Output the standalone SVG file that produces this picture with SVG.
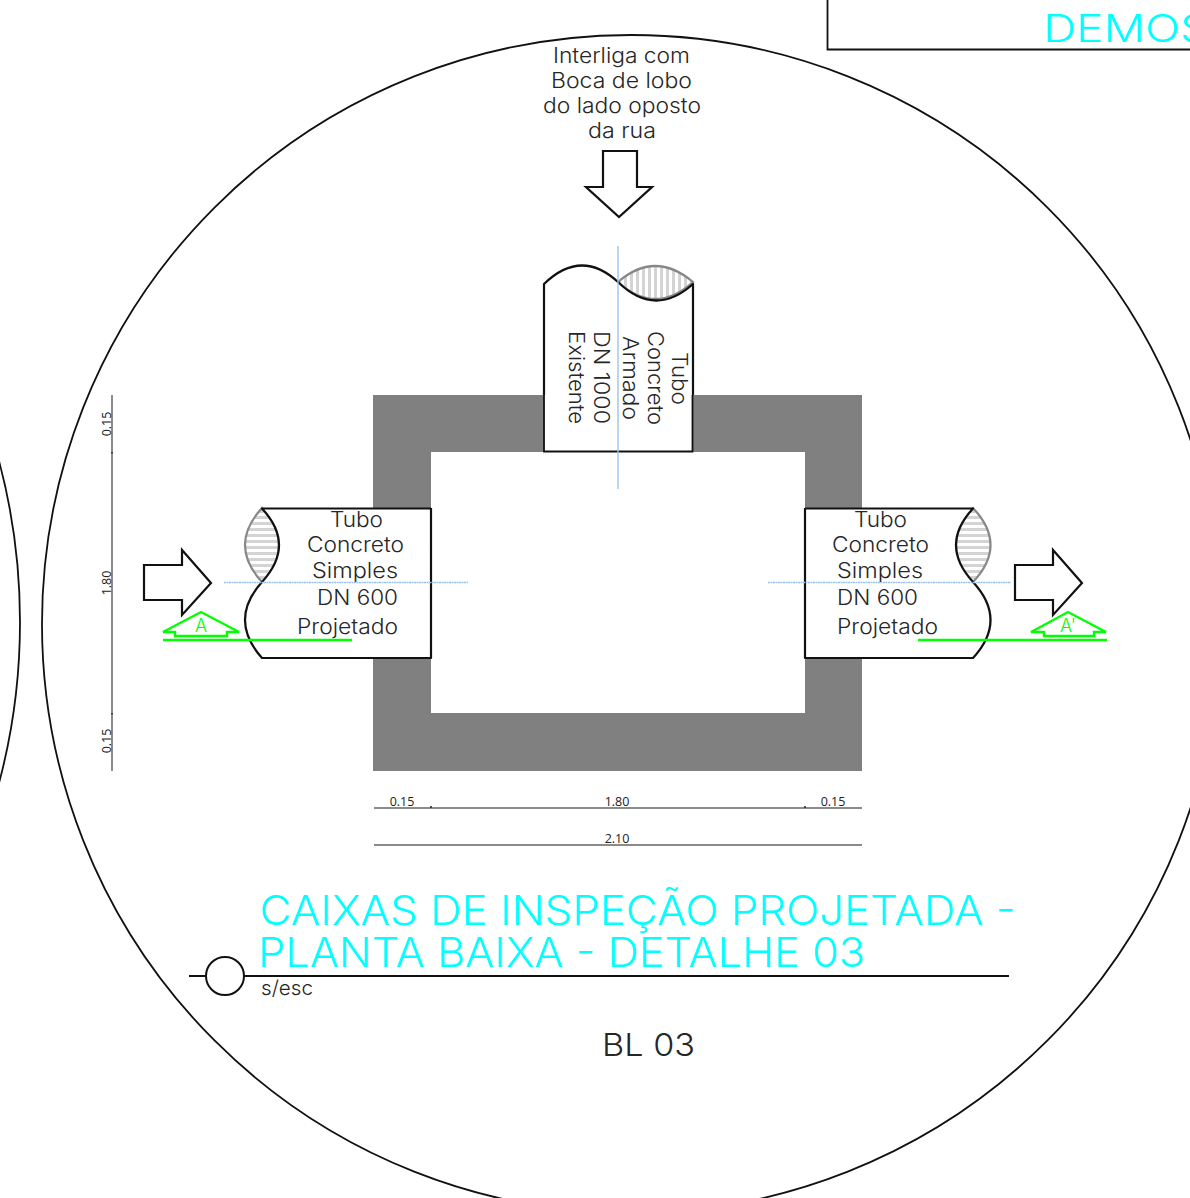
<svg xmlns="http://www.w3.org/2000/svg" width="1190" height="1198" viewBox="0 0 1190 1198">
<style>
text{font-family:Inter,"Liberation Sans",Arial,sans-serif;fill:#262626;font-weight:300}
.t{font-size:21px;text-anchor:middle}
.c{font-size:41px;fill:#00ffff}
.d{font-family:"Open Sans","Liberation Sans",sans-serif;font-size:12.5px;text-anchor:middle;fill:#222;font-weight:400}
.o{fill:none;stroke:#111;stroke-width:1.8}
.p{fill:none;stroke:#111;stroke-width:2.2;stroke-linejoin:round}
.a{fill:#fff;stroke:#111;stroke-width:2.2;stroke-linejoin:miter}
.g{fill:none;stroke:#00ff00;stroke-width:2.4}
.b{fill:none;stroke:#9cc3e8;stroke-width:1.4}
.l{fill:url(#hh);stroke:#888;stroke-width:2.2}
.v{fill:url(#hv);stroke:#888;stroke-width:2.2}
.m{stroke:#666;stroke-width:1.5;fill:none}
.s{font-size:18px;text-anchor:middle;fill:#00ff00}
</style>
<defs>
<pattern id="hh" width="8" height="6" patternUnits="userSpaceOnUse"><rect width="8" height="6" fill="#fff"/><rect width="8" height="3" fill="#d4d4d4"/></pattern>
<pattern id="hv" width="6" height="8" patternUnits="userSpaceOnUse"><rect width="6" height="8" fill="#fff"/><rect width="3" height="8" fill="#d4d4d4"/></pattern>
</defs>
<g id="circles">
<circle class="o" cx="631" cy="624" r="589"/>
<circle class="o" cx="-606" cy="622" r="626"/>
</g>
<g id="title-block">
<path class="o" d="M827.500 0V49.500H1190"/>
<text class="c" x="1043" y="42" style="font-size:38.500px" textLength="166" lengthAdjust="spacingAndGlyphs">DEMOS</text>
</g>
<g id="interliga-label">
<text class="t" x="621.500" y="63" textLength="137" lengthAdjust="spacingAndGlyphs">Interliga com</text>
<text class="t" x="621.500" y="88" textLength="141" lengthAdjust="spacingAndGlyphs">Boca de lobo</text>
<text class="t" x="622" y="113" textLength="158" lengthAdjust="spacingAndGlyphs">do lado oposto</text>
<text class="t" x="622" y="138" textLength="68" lengthAdjust="spacingAndGlyphs">da rua</text>
</g>
<g id="box">
<path fill="#808080" fill-rule="evenodd" d="M373 395H862V771H373ZM431 452V713H805V452Z"/>
</g>
<g id="pipe-top">
<path class="v" d="M618 282Q655 250 693 282Q655 316 618 282Z"/>
<path fill="#fff" stroke="none" d="M544 284Q581 250 618 282Q655 318 693 284V452H544Z"/>
<path class="p" d="M544 395V284Q581 248 618 282Q655 318 693 284V395"/>
<path class="o" d="M544 395V451.500H692.500V395"/>
<text class="t" transform="translate(672,378.500) rotate(90)" textLength="53" lengthAdjust="spacingAndGlyphs">Tubo</text>
<text class="t" transform="translate(648,378) rotate(90)" textLength="94" lengthAdjust="spacingAndGlyphs">Concreto</text>
<text class="t" transform="translate(623,378) rotate(90)" textLength="84" lengthAdjust="spacingAndGlyphs">Armado</text>
<text class="t" transform="translate(594,377.500) rotate(90)" textLength="93" lengthAdjust="spacingAndGlyphs">DN 1000</text>
<text class="t" transform="translate(569,377.500) rotate(90)" textLength="93" lengthAdjust="spacingAndGlyphs">Existente</text>
</g>
<g id="pipe-left">
<path class="l" d="M262 508Q228 545 262 582Q296 545 262 508Z"/>
<path fill="#fff" stroke="none" d="M262 508Q296 545 262 582Q228 620 262 658H431V508Z"/>
<path class="p" d="M431 508.500H262Q296 545 262 582Q228 620 262 658H431V508"/>
<text class="t" x="356.500" y="527" textLength="53" lengthAdjust="spacingAndGlyphs">Tubo</text>
<text class="t" x="355.500" y="552" textLength="97" lengthAdjust="spacingAndGlyphs">Concreto</text>
<text class="t" x="355" y="578" textLength="86" lengthAdjust="spacingAndGlyphs">Simples</text>
<text class="t" x="357.500" y="605" textLength="81" lengthAdjust="spacingAndGlyphs">DN 600</text>
<text class="t" x="347.500" y="634" textLength="101" lengthAdjust="spacingAndGlyphs">Projetado</text>
</g>
<g id="pipe-right">
<path class="l" d="M973 508Q1008 545 973 582Q939 545 973 508Z"/>
<path fill="#fff" stroke="none" d="M973 508Q939 545 973 582Q1008 620 973 658H805V508Z"/>
<path class="p" d="M805 508.500H973Q939 545 973 582Q1008 620 973 658H805V508"/>
<text class="t" x="880.500" y="527" textLength="53" lengthAdjust="spacingAndGlyphs">Tubo</text>
<text class="t" x="880.500" y="552" textLength="97" lengthAdjust="spacingAndGlyphs">Concreto</text>
<text class="t" x="880" y="578" textLength="86" lengthAdjust="spacingAndGlyphs">Simples</text>
<text class="t" x="877.500" y="605" textLength="81" lengthAdjust="spacingAndGlyphs">DN 600</text>
<text class="t" x="887.500" y="634" textLength="101" lengthAdjust="spacingAndGlyphs">Projetado</text>
</g>
<g id="connectors">
<path class="b" d="M618 246V489"/>
<path class="b" stroke-dasharray="2 0.500" d="M224 582.500H468M768 582.500H1011"/>
<path class="a" d="M603 151H637V187H652L619 217L586 187H603Z"/>
<path class="a" d="M144 565H182V550L211 583L182 615V600H144Z"/>
<path class="a" d="M1015 565H1053V550L1082 583L1053 615V600H1015Z"/>
</g>
<g id="section-a">
<path class="g" d="M163 632L201 612L239 632H227V636H175V632ZM163 640H352"/>
<text class="s" x="201" y="632">A</text>
</g>
<g id="section-a-prime">
<path class="g" d="M1031 632L1068 612L1106 632H1094V636H1044V632ZM918 640H1107"/>
<text class="s" x="1068" y="632">A'</text>
</g>
<g id="dimensions">
<path class="m" d="M374 808H862M374 845H862M112 395V771"/>
<path stroke="#222" stroke-width="1.500" d="M431 806V808M805 806V808M112 452V453.500M112 713V714.500"/>
<text class="d" x="402" y="806">0.15</text>
<text class="d" x="617" y="806">1.80</text>
<text class="d" x="833" y="806">0.15</text>
<text class="d" x="617" y="843">2.10</text>
<text class="d" transform="translate(111,424) rotate(-90)">0.15</text>
<text class="d" transform="translate(111,583) rotate(-90)">1.80</text>
<text class="d" transform="translate(111,741) rotate(-90)">0.15</text>
</g>
<g id="caption">
<path class="o" style="stroke-width:2" d="M189 976H1009"/>
<circle cx="225" cy="976" r="19" fill="#fff" stroke="#111" stroke-width="2"/>
<text class="c" x="259.500" y="925" textLength="756" lengthAdjust="spacingAndGlyphs">CAIXAS DE INSPEÇÃO PROJETADA -</text>
<text class="c" x="258" y="967" textLength="607" lengthAdjust="spacingAndGlyphs">PLANTA BAIXA - DETALHE 03</text>
<text x="261" y="995" style="font-size:20px" textLength="52" lengthAdjust="spacingAndGlyphs">s/esc</text>
<text x="602" y="1056" style="font-size:31px" textLength="93" lengthAdjust="spacingAndGlyphs">BL 03</text>
</g>
</svg>
